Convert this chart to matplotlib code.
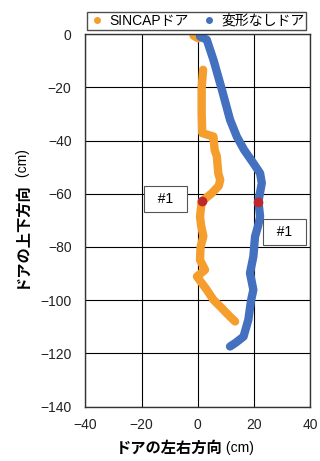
import matplotlib.pyplot as plt
from matplotlib.lines import Line2D

plt.rcParams['font.family'] = ['Liberation Sans', 'Noto Sans CJK JP', 'DejaVu Sans']

# SINCAP door (orange)
sincap_x0 = [-1.5, -0.5, 0.3]
sincap_y0 = [-0.6, -1.2, -1.6]
sincap_x = [1.9, 1.4, 1.4, 1.6, 4.0, 5.6, 6.0, 6.8, 7.3, 8.0, 7.5, 5.0, 1.4, 0.8, 1.2, 2.0,
            1.0, 0.8, 2.6, -0.3, 3.2, 5.6, 8.0, 11.5, 13.3]
sincap_y = [-13.4, -20, -30, -37.2, -38, -38.5, -43.5, -46, -52.3, -54.8, -57, -59.8, -62.9,
            -68.6, -72, -76, -80, -84.9, -88.6, -91.1, -96.1, -99.9, -102.4, -106.2, -108]

# undeformed door (blue)
plain_x = [0.8, 3.2, 5.6, 8.6, 11.5, 13.9, 16.5, 19.8, 22.2, 22.8, 21.6, 22.2, 21.5, 20.4,
           19.8, 18.6, 19.8, 19.0, 18.0, 16.3, 13.5, 11.5]
plain_y = [-0.9, -2.1, -9.7, -20.9, -32.2, -38.5, -43.5, -48.5, -52.3, -56, -62.9, -68.6,
           -72, -76.1, -83.6, -89.8, -96.1, -100, -107.4, -113.7, -116, -117.4]

# point #1
p1_x = [1.4, 21.6]
p1_y = [-62.9, -63.2]

orange = '#F59D2D'
blue = '#4470C0'

fig = plt.figure(figsize=(3.2, 4.61), dpi=100)
ax = fig.add_axes([0.267, 0.118, 0.702, 0.808])

ax.plot(sincap_x0, sincap_y0, color=orange, lw=6, solid_capstyle='round', solid_joinstyle='round')
ax.plot(sincap_x, sincap_y, color=orange, lw=6, solid_capstyle='round', solid_joinstyle='round')
ax.plot(plain_x, plain_y, color=blue, lw=6, solid_capstyle='round', solid_joinstyle='round')
ax.plot(p1_x, p1_y, 'o', color='#C0272D', ms=6, ls='none', zorder=5)

ax.set_xlim(-40, 40)
ax.set_ylim(-140, 0)
ax.set_xticks(range(-40, 41, 20))
ax.set_yticks(range(-140, 1, 20))
ax.grid(True, color='black', lw=0.8)
ax.tick_params(length=0, labelsize=10, colors='#222222')
ax.tick_params(axis='y', pad=10)
ax.tick_params(axis='x', pad=8)
for s in ax.spines.values():
    s.set_color('#333333')
    s.set_linewidth(1.0)

box = dict(boxstyle='square,pad=0.45', fc='white', ec='#555555', lw=0.8)
ax.text(-11.5, -62, '  #1  ', fontsize=10, ha='center', va='center', bbox=box, zorder=6)
ax.text(31, -74.4, '  #1  ', fontsize=10, ha='center', va='center', bbox=box, zorder=6)

# axis labels: bold japanese + regular (cm)
tx = fig.text(0.695, 0.012, 'ドアの左右方向', fontsize=11, fontweight='bold', ha='right', va='bottom')
ax.annotate(' (cm)', xy=(1, 0.05), xycoords=tx, fontsize=10, va='bottom', ha='left',
            annotation_clip=False)
ty = fig.text(0.066, 0.375, 'ドアの上下方向', fontsize=11, fontweight='bold', rotation=90,
              ha='center', va='bottom')
ax.annotate(' (cm)', xy=(0.6, 1), xycoords=ty, fontsize=10, rotation=90, ha='center',
            va='bottom', annotation_clip=False)

handles = [Line2D([], [], marker='o', ls='none', color=orange, ms=4),
           Line2D([], [], marker='o', ls='none', color=blue, ms=4)]
leg = ax.legend(handles, ['SINCAPドア', '変形なしドア'], ncol=2, loc='lower center',
                bbox_to_anchor=(0.495, 1.0), fontsize=10, frameon=True, fancybox=False,
                handlelength=1.2, handletextpad=0.3, columnspacing=0.8, borderpad=0.15,
                borderaxespad=0.3)
leg.get_frame().set_edgecolor('#222222')
leg.get_frame().set_linewidth(1.0)

fig.savefig('out.png', dpi=100)
